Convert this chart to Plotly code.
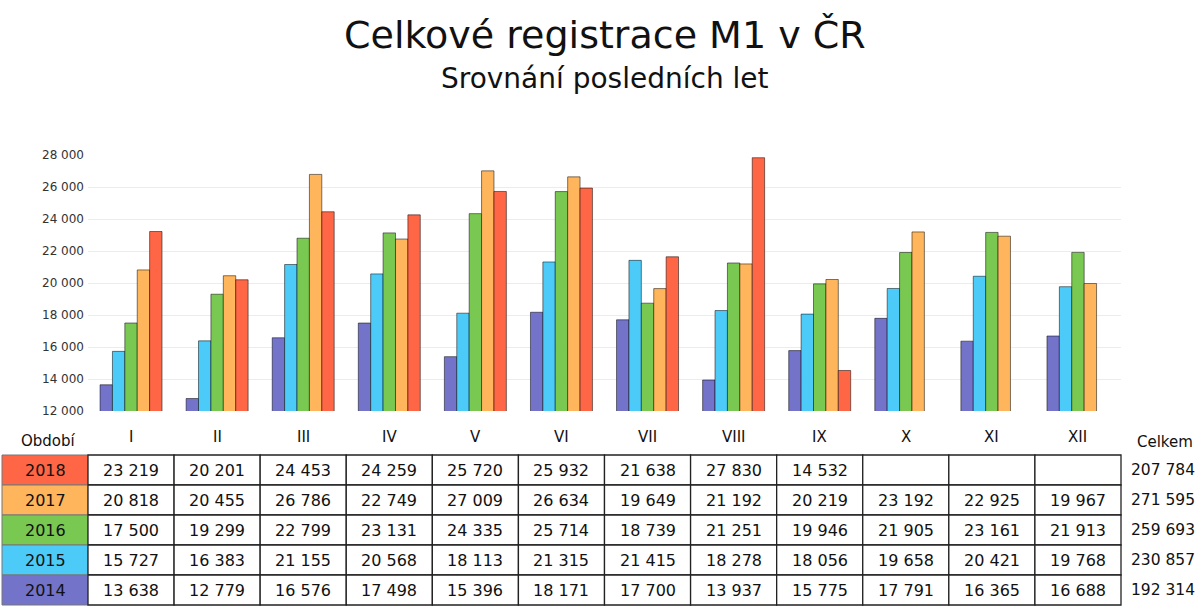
import plotly.graph_objects as go

# data
months = ['I', 'II', 'III', 'IV', 'V', 'VI', 'VII', 'VIII', 'IX', 'X', 'XI', 'XII']
years = ['2014', '2015', '2016', '2017', '2018']
reg_2014 = [13638, 12779, 16576, 17498, 15396, 18171, 17700, 13937, 15775, 17791, 16365, 16688]
reg_2015 = [15727, 16383, 21155, 20568, 18113, 21315, 21415, 18278, 18056, 19658, 20421, 19768]
reg_2016 = [17500, 19299, 22799, 23131, 24335, 25714, 18739, 21251, 19946, 21905, 23161, 21913]
reg_2017 = [20818, 20455, 26786, 22749, 27009, 26634, 19649, 21192, 20219, 23192, 22925, 19967]
reg_2018 = [23219, 20201, 24453, 24259, 25720, 25932, 21638, 27830, 14532, None, None, None]
totals = [192314, 230857, 259693, 271595, 207784]

series = [reg_2014, reg_2015, reg_2016, reg_2017, reg_2018]
colors = ['#7373C9', '#4DCBF8', '#79C851', '#FEB55C', '#FF6645']

W, H = 1200, 606
# plot area in pixels
L, R, T, B = 88, 1121, 155, 411


def px(x):
    return (x - L) / (R - L)


def py(y):
    return (B - y) / (B - T)


def fmt(v):
    return '' if v is None else f'{v:,}'.replace(',', ' ')


def label(text, x, y, size=15):
    return dict(text=text, x=px(x), y=py(y), xref='paper', yref='paper', showarrow=False,
                xanchor='center', yanchor='middle', font=dict(size=size, color='#111'))


fig = go.Figure()
for yr, vals, col in zip(years, series, colors):
    fig.add_trace(go.Bar(x=months, y=vals, name=yr, marker_color=col,
                         marker_line=dict(color='rgba(0,0,0,0.5)', width=1)))

font = 'Verdana, DejaVu Sans, sans-serif'
shapes = []
annotations = []

# title
annotations.append(label('Celkové registrace M1 v ČR', 605, 35, 38))
annotations.append(label('Srovnání posledních let', 605, 78, 28))

# header row
annotations.append(label('Období', 48, 441))
annotations.append(label('Celkem', 1165, 442))
col_w = (R - L) / len(months)
for i, m in enumerate(months):
    annotations.append(label(m, L + col_w * (i + 0.5), 437))

# table rows, 2018 on top
row_top = 455
row_h = 30
for r, idx in enumerate(range(len(years) - 1, -1, -1)):
    y0 = row_top + r * row_h
    y1 = min(y0 + row_h, H - 1)
    ym = (y0 + y0 + row_h) / 2
    shapes.append(dict(type='rect', xref='paper', yref='paper', x0=px(2), x1=px(L), y0=py(y0), y1=py(y1),
                       fillcolor=colors[idx], line=dict(color='#777', width=1)))
    annotations.append(label(years[idx], 45, ym, 16))
    for i in range(len(months)):
        x0 = L + col_w * i
        shapes.append(dict(type='rect', xref='paper', yref='paper', x0=px(x0), x1=px(x0 + col_w),
                           y0=py(y0), y1=py(y1), fillcolor='white', line=dict(color='#222', width=1.3)))
        annotations.append(label(fmt(series[idx][i]), x0 + col_w / 2, ym, 16))
    annotations.append(label(fmt(totals[idx]), 1163, ym, 15.5))

fig.update_layout(
    width=W, height=H,
    margin=dict(l=L, r=W - R, t=T, b=H - B, autoexpand=False),
    barmode='group', bargap=0.28, bargroupgap=0,
    showlegend=False,
    plot_bgcolor='white', paper_bgcolor='white',
    separators=', ',
    font=dict(family=font, color='#111'),
    shapes=shapes,
    annotations=annotations,
    xaxis=dict(showticklabels=False, showgrid=False, zeroline=False, showline=False, ticks=''),
    yaxis=dict(range=[12000, 28000], dtick=2000, tickformat=',d', showgrid=True, gridcolor='#ececec',
               zeroline=False, showline=False, ticks='', tickfont=dict(size=12, color='#333'),
               ticklabelstandoff=3),
)

# drop the default page margin so the figure fills the window exactly
fig.write_html('out.html', config={'displayModeBar': False},
               post_script="document.body.style.margin='0';")
